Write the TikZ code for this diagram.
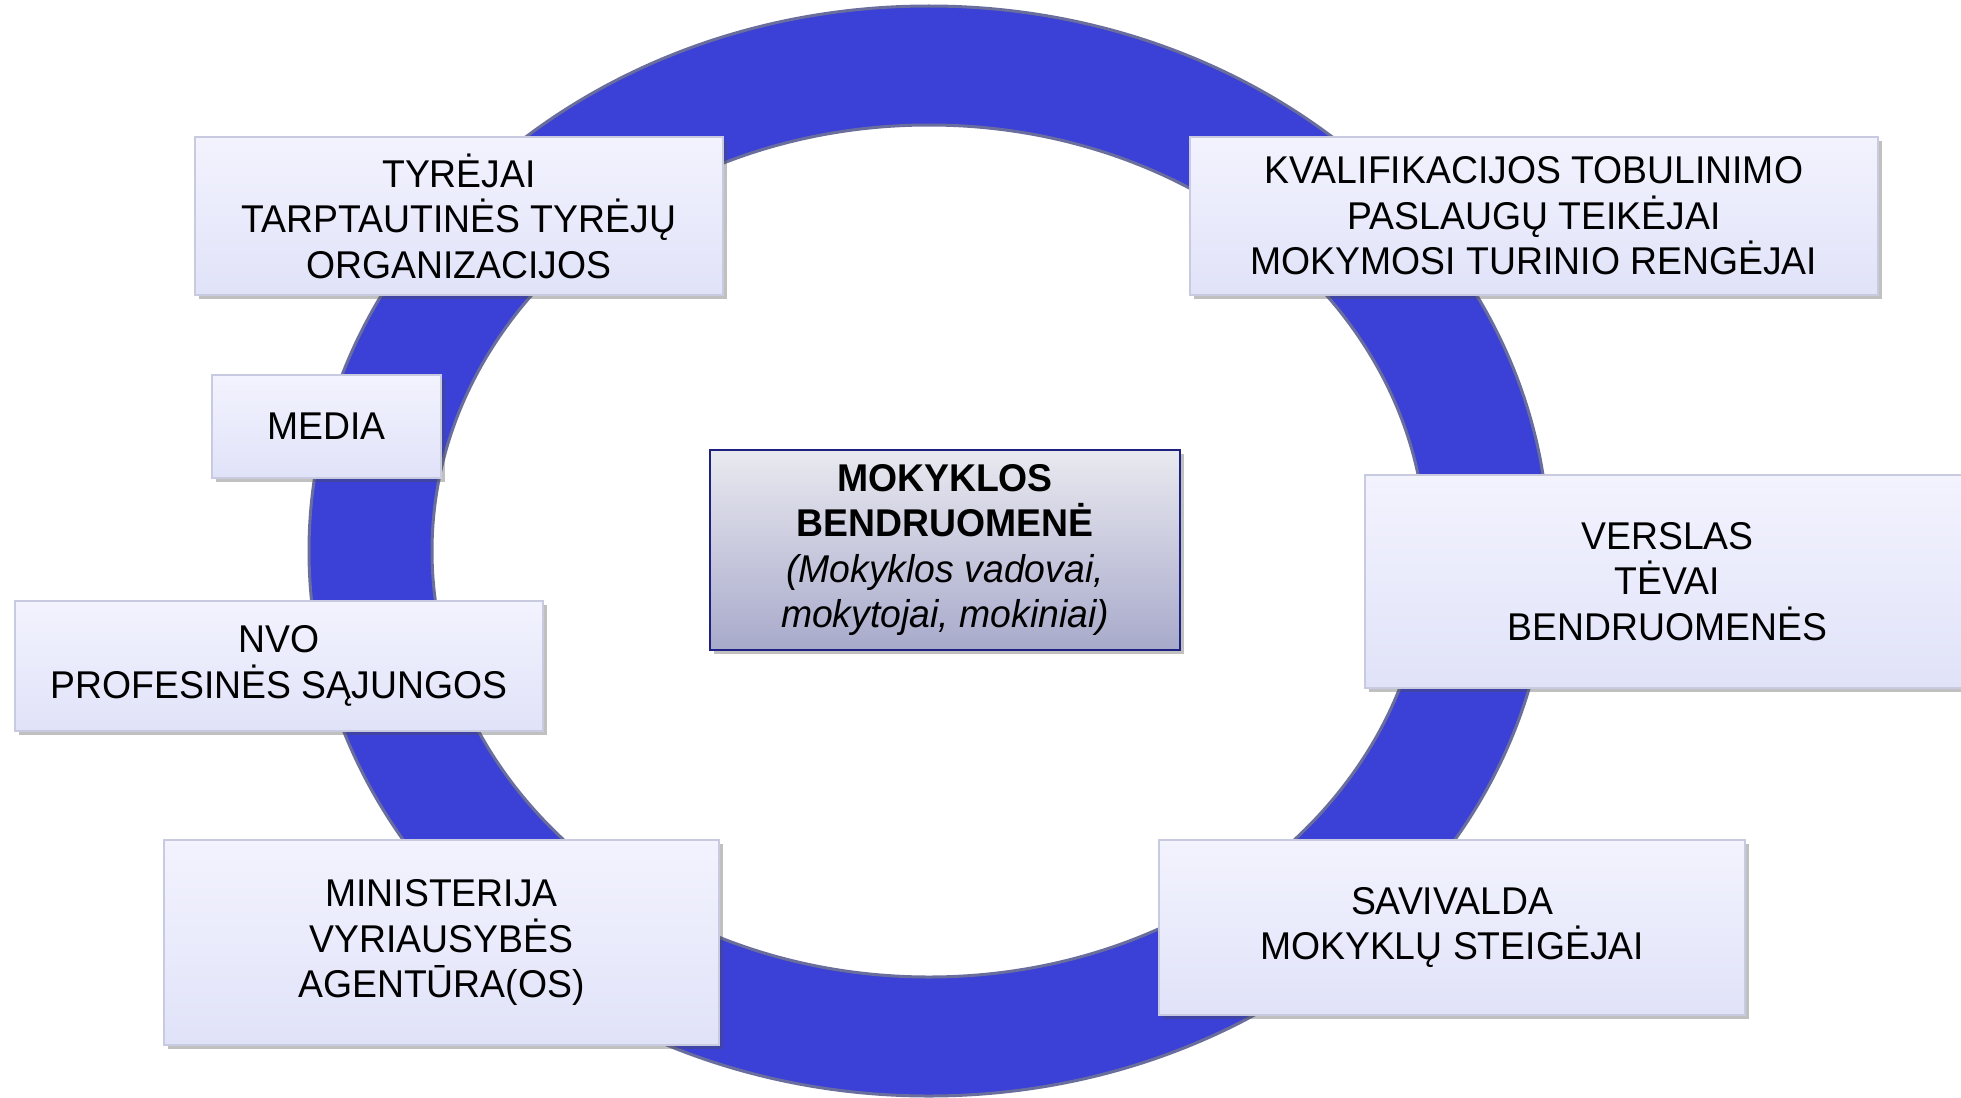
\documentclass[tikz,border=0pt]{standalone}
\usepackage{fontspec}
\setmainfont[FakeStretch=0.965]{Liberation Sans}
\usetikzlibrary{shadows}
\definecolor{ringblue}{HTML}{3B40D6}
\definecolor{ringedge}{HTML}{6A6E9C}
\definecolor{boxtop}{HTML}{F3F3FE}
\definecolor{boxbot}{HTML}{E0E2F8}
\definecolor{boxedge}{HTML}{C8CADF}
\definecolor{ctop}{HTML}{E9E9F0}
\definecolor{cbot}{HTML}{A8AACB}
\definecolor{cedge}{HTML}{1E2082}
\tikzset{
  txt/.style={font=\fontsize{38.7}{45.5}\selectfont, align=center, text=black},
  sbox/.style={txt, rectangle, draw=boxedge, line width=1.5pt, top color=boxtop, bottom color=boxbot,
    inner sep=0pt, drop shadow={opacity=0.35, shadow xshift=4pt, shadow yshift=-4pt, fill=black!70}},
  cbox/.style={txt, rectangle, draw=cedge, line width=2.2pt, top color=ctop, bottom color=cbot,
    inner sep=0pt, drop shadow={opacity=0.35, shadow xshift=4pt, shadow yshift=-4pt, fill=black!70}},
}
\begin{document}
\begin{tikzpicture}[x=1pt,y=-1pt]
\useasboundingbox (0,0) rectangle (1961,1097);
\fill[white] (0,0) rectangle (1961,1097);
% ring
\fill[ringblue, even odd rule] (929,551) ellipse [x radius=620, y radius=545]
      (929,551) ellipse [x radius=497, y radius=426];
\draw[ringedge, line width=3pt] (929,551) ellipse [x radius=620, y radius=545];
\draw[ringedge, line width=3pt] (929,551) ellipse [x radius=497, y radius=426];
% boxes
\node[sbox, minimum width=528, minimum height=158] (tyr) at (459,216)
  {TYRĖJAI\\TARPTAUTINĖS TYRĖJŲ\\ORGANIZACIJOS};
\node[sbox, minimum width=688, minimum height=158] (kval) at (1534,216)
  {KVALIFIKACIJOS TOBULINIMO\\PASLAUGŲ TEIKĖJAI\\MOKYMOSI TURINIO RENGĖJAI};
\node[sbox, minimum width=229, minimum height=103] (media) at (326.5,426.5) {MEDIA};
\node[cbox, minimum width=470, minimum height=200] (mok) at (945,550)
  {\textbf{MOKYKLOS}\\\textbf{BENDRUOMENĖ}\\\textit{(Mokyklos vadovai,}\\\textit{mokytojai, mokiniai)}};
\node[sbox, minimum width=605, minimum height=213] (vers) at (1667.5,581.5)
  {VERSLAS\\TĖVAI\\BENDRUOMENĖS};
\node[sbox, minimum width=528, minimum height=130] (nvo) at (279,666)
  {NVO\\PROFESINĖS SĄJUNGOS};
\node[sbox, minimum width=555, minimum height=205] (min) at (441.5,942.5)
  {MINISTERIJA\\VYRIAUSYBĖS\\AGENTŪRA(OS)};
\node[sbox, minimum width=586, minimum height=175] (sav) at (1452,927.5)
  {SAVIVALDA\\MOKYKLŲ STEIGĖJAI};
\end{tikzpicture}
\end{document}
